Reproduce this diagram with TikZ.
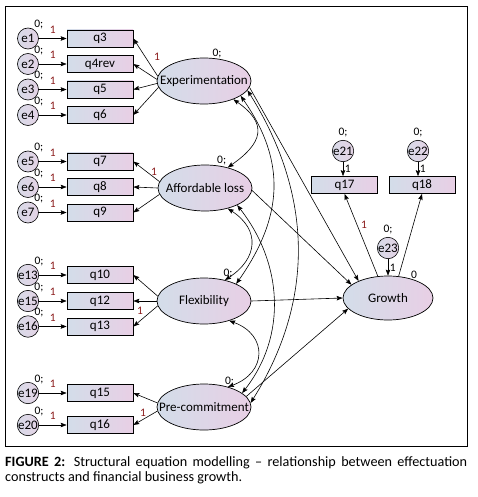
\documentclass[tikz,border=0pt]{standalone}
\usepackage{fontspec}
\setmainfont{Carlito}
\usepackage{tikz}
\usetikzlibrary{arrows.meta,shapes.geometric}
\definecolor{shadeL}{HTML}{D3DDE9}
\definecolor{shadeR}{HTML}{E8CFE5}
\definecolor{errL}{HTML}{D8DAE7}
\definecolor{errR}{HTML}{E4D3E6}
\definecolor{fixed}{HTML}{8B1C1C}
\newcommand{\latname}[1]{\makebox[0pt]{#1}}

\begin{document}
\begin{tikzpicture}[x=1pt, y=-1pt,
  obs/.style={draw, line width=0.7pt, left color=shadeL, right color=shadeR, minimum width=66pt, minimum height=17pt, inner sep=0pt, font=\fontsize{13}{13}\selectfont},
  err/.style={draw, circle, line width=0.6pt, left color=errL, right color=errR, minimum size=21pt, inner sep=0pt, font=\fontsize{13}{13}\selectfont},
  lat/.style={draw, ellipse, line width=0.7pt, left color=shadeL, right color=shadeR, minimum width=94pt, minimum height=46pt, inner sep=0pt, font=\fontsize{13}{13}\selectfont},
  zero/.style={font=\fontsize{11.5}{12}\selectfont, inner sep=0pt},
  one/.style={font=\fontsize{11.5}{12}\selectfont, text=fixed, inner sep=0pt},
  reg/.style={-{Stealth[length=6pt,width=4.5pt,inset=1pt]}, line width=0.6pt},
  cov/.style={{Stealth[length=6pt,width=4.5pt,inset=1pt]}-{Stealth[length=6pt,width=4.5pt,inset=1pt]}, line width=0.6pt}
]
  \useasboundingbox (0,0) rectangle (478,497);
  \draw[line width=0.9pt] (5,6) rectangle (467,446);

  % Latent constructs
  \node[lat, label={[zero,name=v31]70:0;}] (exp) at (204,81) {\latname{Experimentation}};
  \node[lat, label={[zero,name=v32]62:0;}] (aff) at (205,188) {\latname{Affordable loss}};
  \node[lat, label={[zero,name=v33,label distance=2pt]50:0;}] (flex) at (204,301) {\latname{Flexibility}};
  \node[lat, label={[zero,name=v34]45:0;}] (pre) at (204,407) {\latname{Pre-commitment}};
  \node[lat, minimum width=90pt, minimum height=44pt, label={[zero,name=v30]40:0}] (growth) at (388,298) {Growth};

  % Experimentation items
  \node[err, label={[zero,name=v1]55:0;}] (e1) at (28,38.5) {e1};
  \node[err, label={[zero,name=v2]55:0;}] (e2) at (28,64) {e2};
  \node[err, label={[zero,name=v3]55:0;}] (e3) at (28,89.5) {e3};
  \node[err, label={[zero,name=v4]55:0;}] (e4) at (28,115) {e4};
  \node[obs] (q3) at (100,38.5) {q3};
  \node[obs] (q4rev) at (100,64) {q4rev};
  \node[obs] (q5) at (100,89.5) {q5};
  \node[obs] (q6) at (100,115) {q6};
  \draw[reg] (e1) -- node[one, above=5pt] (w1) {1} (q3);
  \draw[reg] (e2) -- node[one, above=5pt] (w2) {1} (q4rev);
  \draw[reg] (e3) -- node[one, above=5pt] (w3) {1} (q5);
  \draw[reg] (e4) -- node[one, above=5pt] (w4) {1} (q6);
  \draw[reg] (exp.174) -- (q3.east);
  \draw[reg] (exp.178) -- (q4rev.east);
  \draw[reg] (exp.183) -- (q5.east);
  \draw[reg] (exp.188) -- (q6.east);
  \node[one] (w13) at (157,57) {1};

  % Affordable loss items
  \node[err, label={[zero,name=v5]55:0;}] (e5) at (28,161.5) {e5};
  \node[err, label={[zero,name=v6]55:0;}] (e6) at (28,187) {e6};
  \node[err, label={[zero,name=v7]55:0;}] (e7) at (28,212.5) {e7};
  \node[obs] (q7) at (100,161.5) {q7};
  \node[obs] (q8) at (100,187) {q8};
  \node[obs] (q9) at (100,212.5) {q9};
  \draw[reg] (e5) -- node[one, above=5pt] (w5) {1} (q7);
  \draw[reg] (e6) -- node[one, above=5pt] (w6) {1} (q8);
  \draw[reg] (e7) -- node[one, above=5pt] (w7) {1} (q9);
  \draw[reg] (aff.172) -- (q7.east);
  \draw[reg] (aff.180) -- (q8.east);
  \draw[reg] (aff.188) -- (q9.east);
  \node[one] (w14) at (154,172) {1};

  % Flexibility items
  \node[err, label={[zero,name=v13]55:0;}] (e13) at (28,275) {e13};
  \node[err, label={[zero,name=v15]55:0;}] (e15) at (28,301) {e15};
  \node[err, label={[zero,name=v16]55:0;}] (e16) at (28,326.5) {e16};
  \node[obs] (q10) at (100,275) {q10};
  \node[obs] (q12) at (100,301) {q12};
  \node[obs] (q13) at (100,326.5) {q13};
  \draw[reg] (e13) -- node[one, above=5pt] (w8) {1} (q10);
  \draw[reg] (e15) -- node[one, above=5pt] (w9) {1} (q12);
  \draw[reg] (e16) -- node[one, above=5pt] (w10) {1} (q13);
  \draw[reg] (flex.174) -- (q10.east);
  \draw[reg] (flex.180) -- (q12.east);
  \draw[reg] (flex.186) -- (q13.east);
  \node[one] (w15) at (140,311) {1};

  % Pre-commitment items
  \node[err, label={[zero,name=v19]55:0;}] (e19) at (28,393) {e19};
  \node[err, label={[zero,name=v20]55:0;}] (e20) at (28,425) {e20};
  \node[obs] (q15) at (100,393) {q15};
  \node[obs] (q16) at (100,425) {q16};
  \draw[reg] (e19) -- node[one, above=5pt] (w11) {1} (q15);
  \draw[reg] (e20) -- node[one, above=5pt] (w12) {1} (q16);
  \draw[reg] (pre.175) -- (q15.east);
  \draw[reg] (pre.185) -- (q16.east);
  \node[one] (w16) at (143,413) {1};

  % Growth items
  \node[err, label={[zero,name=v21,label distance=3pt]90:0;}] (e21) at (343,151) {e21};
  \node[err, label={[zero,name=v22,label distance=3pt]90:0;}] (e22) at (418,151) {e22};
  \node[err, label={[zero,name=v23,label distance=3pt]90:0;}] (e23) at (388,248) {e23};
  \node[obs] (q17) at (344.5,185) {q17};
  \node[obs] (q18) at (422,185) {q18};
  \draw[reg] (e21) -- node[zero, right=1.5pt] (w21) {1} (e21 |- q17.north);
  \draw[reg] (e22) -- node[zero, right=1.5pt] (w22) {1} (e22 |- q18.north);
  \draw[reg] (e23) -- node[zero, right=1.5pt] (w23) {1} (growth);
  \draw[reg] (growth.115) -- (q17.south);
  \draw[reg] (growth.64) -- (q18.south);
  \node[one] (w17) at (364,225) {1};

  % Paths to growth
  \draw[reg] (exp.-8) -- (growth.150);
  \draw[reg] (aff.-3) -- (growth.160);
  \draw[reg] (flex.east) -- (growth.west);
  \draw[reg] (pre.14) -- (growth.195);

  % Covariances
  \draw[cov] (exp.-32) to[out=-35, in=35, looseness=1.6] (aff.42);
  \draw[cov] (exp.-22) to[out=-55, in=55, looseness=1.1] (flex.28);
  \draw[cov] (exp.-12) to[out=-58, in=58] (pre.5);
  \draw[cov] (aff.-42) to[out=-33, in=33, looseness=1.4] (flex.45);
  \draw[cov] (aff.-28) to[out=-52, in=52] (pre.20);
  \draw[cov] (flex.-38) to[out=-20, in=20, looseness=1.6] (pre.40);

  % Caption
  \node[anchor=north west, text width=462pt, align=justify, inner sep=0pt, font={\fontsize{14.2}{15}\selectfont\hyphenpenalty=10000}] (caption) at (5,456.5) {\textbf{FIGURE 2:} Structural equation modelling – relationship between effectuation constructs and financial business growth.};
\end{tikzpicture}
\end{document}
